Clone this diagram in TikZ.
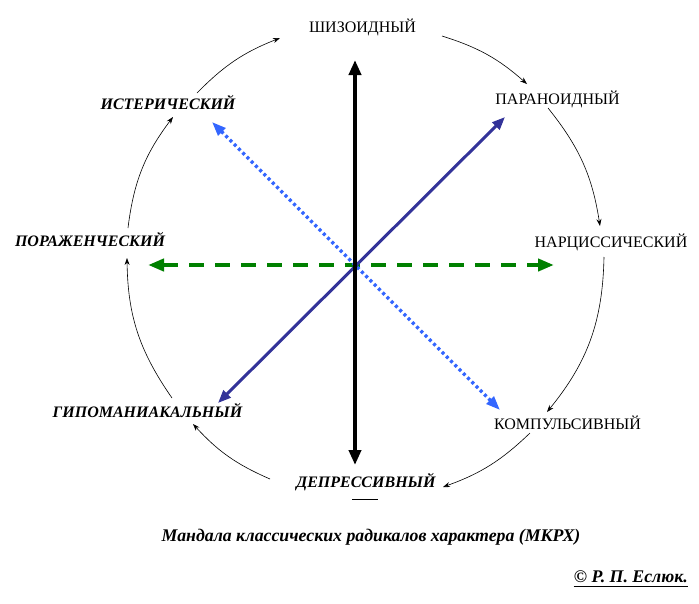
\documentclass[tikz,border=0pt]{standalone}
\usepackage{fontspec}
\setmainfont{Liberation Serif}
\usetikzlibrary{arrows.meta}
\definecolor{navyline}{HTML}{333399}
\definecolor{blueline}{HTML}{3366FF}
\definecolor{greenline}{HTML}{008000}
\tikzset{
  uplabel/.style={font=\fontsize{16}{18}\selectfont, inner sep=0pt},
  itlabel/.style={font=\fontsize{16}{18}\selectfont\bfseries\itshape, inner sep=0pt},
  bigitlabel/.style={font=\fontsize{17.8}{20}\selectfont\bfseries\itshape, inner sep=0pt},
  cyclearc/.style={line width=0.6pt, -{Stealth[length=7pt,width=5pt]}},
  blackaxis/.style={line width=4pt, {Triangle[length=15pt,width=12pt]}-{Triangle[length=15pt,width=12pt]}},
  navyaxis/.style={navyline, line width=3pt, {Triangle[length=13pt,width=10pt]}-{Triangle[length=13pt,width=10pt]}},
  blueaxis/.style={blueline, line width=3.3pt, dash pattern=on 3pt off 3pt, {Triangle[length=14pt,width=10pt]}-{Triangle[length=14pt,width=10pt]}},
  greenaxis/.style={greenline, line width=4pt, dash pattern=on 15pt off 11pt, {Triangle[length=16pt,width=12pt]}-{Triangle[length=16pt,width=12pt]}},
}
\begin{document}
\begin{tikzpicture}[x=1pt,y=-1pt]
\useasboundingbox (0,0) rectangle (699,603);
\fill[white] (0,0) rectangle (699,603);

% labels
\node[uplabel] (shiz) at (362.5,27) {ШИЗОИДНЫЙ};
\node[uplabel] (para) at (557.5,99) {ПАРАНОИДНЫЙ};
\node[uplabel] (narc) at (611,242) {НАРЦИССИЧЕСКИЙ};
\node[uplabel] (komp) at (567.5,423) {КОМПУЛЬСИВНЫЙ};
\node[itlabel] (depr) at (366,482) {ДЕПРЕССИВНЫЙ};
\node[itlabel] (gipo) at (147.5,410) {ГИПОМАНИАКАЛЬНЫЙ};
\node[itlabel] (pora) at (90,240) {ПОРАЖЕНЧЕСКИЙ};
\node[itlabel] (ister) at (168,103) {ИСТЕРИЧЕСКИЙ};

\node[bigitlabel] (title) at (371,537) {Мандала классических радикалов характера (МКРХ)};
\node[bigitlabel, anchor=east] (copy) at (688,577) {© Р. П. Еслюк.};
\draw[line width=1.3pt] (copy.south west) ++(0,3) coordinate (ul1) -- (copy.south east |- ul1) coordinate (ul2);

% short dash under ДЕПРЕССИВНЫЙ
\coordinate (d1) at (352,499);
\coordinate (d2) at (378,499);
\draw[line width=1pt] (d1) -- (d2);

% axes
\coordinate (c) at (355,265);
\coordinate (bt) at (355,60);
\coordinate (bb) at (355,465);
\coordinate (nt) at (505,117);
\coordinate (nb) at (218,403);
\coordinate (lt) at (212,122);
\coordinate (lb) at (500,410);
\coordinate (gl) at (148,265);
\coordinate (gr) at (554,265);
\draw[greenaxis] (gl) -- (gr);
\draw[blueaxis] (lt) -- (lb);
\draw[navyaxis] (nb) -- (nt);
\draw[blackaxis] (bb) -- (bt);

% cycle arcs
\coordinate (a1s) at (442,36);  \coordinate (a1e) at (527,84);
\coordinate (a2s) at (548,108); \coordinate (a2e) at (600,226);
\coordinate (a3s) at (604,257); \coordinate (a3e) at (547,412);
\coordinate (a4s) at (530,433); \coordinate (a4e) at (443,487);
\coordinate (a5s) at (270,479); \coordinate (a5e) at (193,424);
\coordinate (a6s) at (172,398); \coordinate (a6e) at (127,258);
\coordinate (a7s) at (128,228); \coordinate (a7e) at (173,117);
\coordinate (a8s) at (197,93);  \coordinate (a8e) at (280,38);
\draw[cyclearc] (a1s) to[bend left=12] (a1e);
\draw[cyclearc] (a2s) to[bend left=15] (a2e);
\draw[cyclearc] (a3s) to[bend left=19] (a3e);
\draw[cyclearc] (a4s) to[bend left=12] (a4e);
\draw[cyclearc] (a5s) to[bend left=12] (a5e);
\draw[cyclearc] (a6s) to[bend left=17] (a6e);
\draw[cyclearc] (a7s) to[bend left=15] (a7e);
\draw[cyclearc] (a8s) to[bend left=12] (a8e);
\end{tikzpicture}
\end{document}
